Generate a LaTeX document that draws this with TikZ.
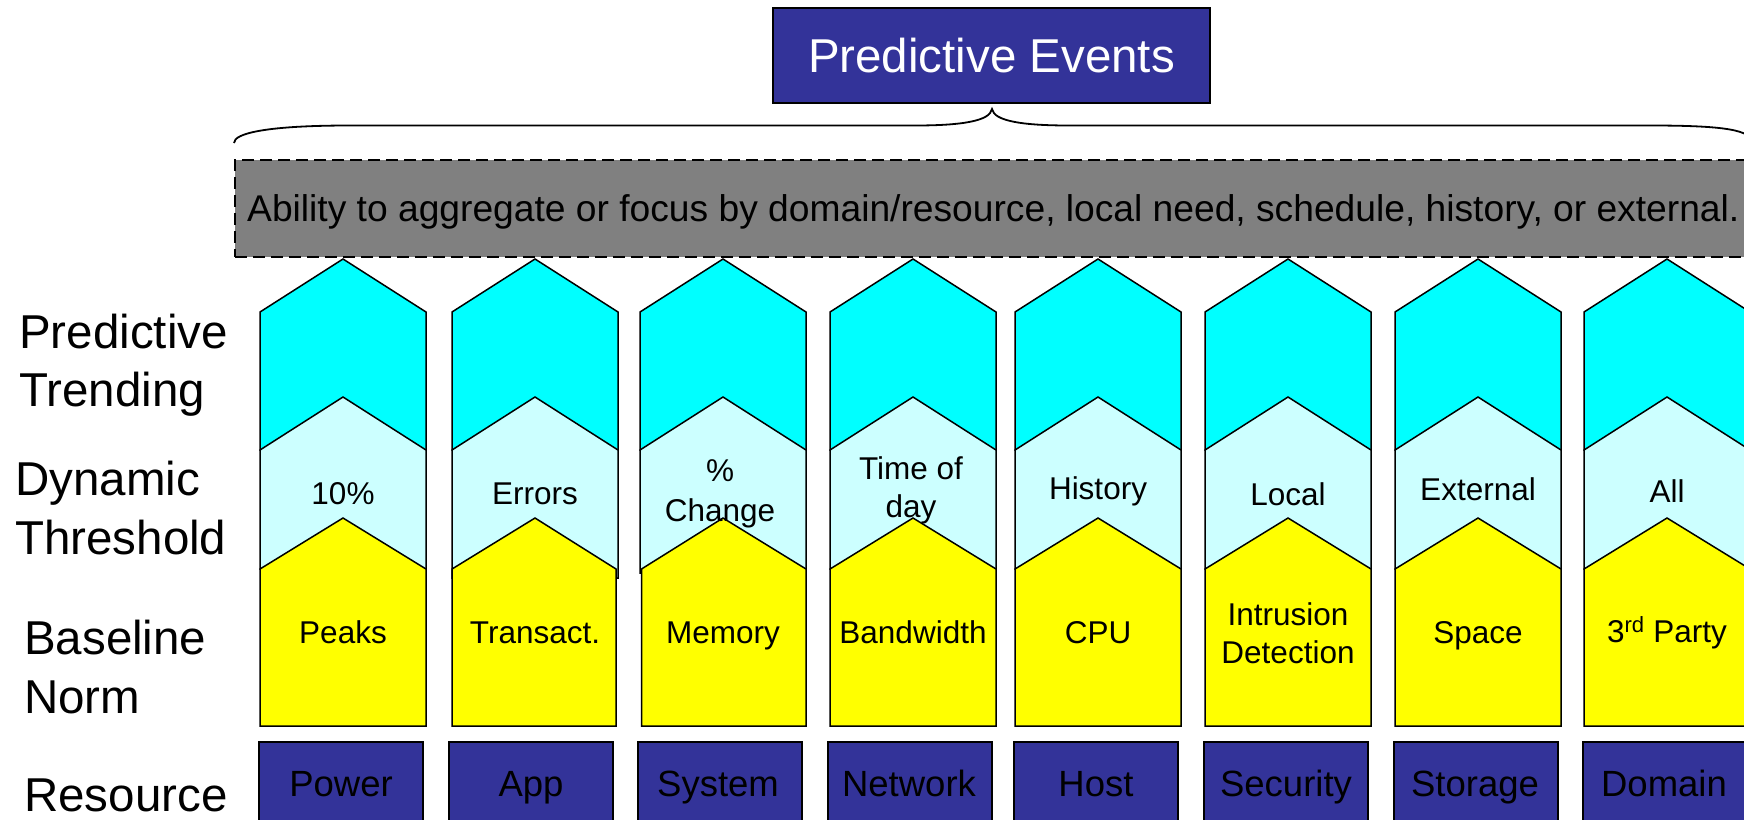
\documentclass[tikz,border=0pt]{standalone}
\usepackage{fontspec}
\setmainfont{Liberation Sans}
\definecolor{navy}{HTML}{333399}
\definecolor{trend}{HTML}{00FFFF}
\definecolor{thresh}{HTML}{CCFFFF}
\definecolor{base}{HTML}{FFFF00}
\definecolor{aggray}{HTML}{808080}

% one stacked column: #1 left x, #2 bottom of threshold band,
% #3 left inset of baseline band, #4 right edge of baseline band
\newcommand\stackcol[4]{%
  \begin{scope}[shift={(#1,0)}]
    \filldraw[band, fill=trend]  (0,312) -- (83,259) -- (166,312) -- (166,450) -- (0,450) -- cycle;
    \filldraw[band, fill=thresh] (0,450) -- (83,397) -- (166,450) -- (166,#2) -- (0,#2) -- cycle;
    \filldraw[band, fill=base]   (#3,569) -- (83,518) -- (#4,569) -- (#4,726) -- (#3,726) -- cycle;
  \end{scope}}

\tikzset{
  band/.style={draw=black, line width=1.5pt, line join=miter},
  rowlabel/.style={anchor=base west, inner sep=0pt, font=\fontsize{47.5pt}{57pt}\selectfont},
  celltext/.style={anchor=base, inner sep=0pt, font=\fontsize{31.5pt}{38pt}\selectfont},
  restext/.style={anchor=base, inner sep=0pt, font=\fontsize{36.5pt}{44pt}\selectfont},
  resbox/.style={draw=black, fill=navy, line width=1.5pt, anchor=north west,
                 minimum width=164pt, minimum height=100pt, inner sep=0pt},
  titlebox/.style={draw=black, fill=navy, line width=1.5pt, text=white, inner sep=0pt,
                   font=\fontsize{47.5pt}{57pt}\selectfont},
  aggbox/.style={draw=black, fill=aggray, line width=1.5pt, dash pattern=on 12pt off 6pt,
                 anchor=north west, inner sep=0pt},
  brace/.style={draw=black, line width=1.8pt},
}

\begin{document}
\begin{tikzpicture}[x=1pt,y=-1pt]
  \useasboundingbox (0,0) rectangle (1744,819);
  \clip (0,0) rectangle (1744,819);

  % heading and the brace that gathers the columns
  \node[titlebox, minimum width=437pt, minimum height=95pt] (title) at (991.5,55.5) {Predictive Events};
  \coordinate (braceL) at (234,143);
  \coordinate (braceR) at (1752,143);
  \coordinate (bracetip) at (992,109);
  \draw[brace] (braceL) .. controls (234,133) and (268,125.5) .. (350,125.5)
        -- (915,125.5) .. controls (962,125.5) and (990,121) .. (bracetip)
        .. controls (994,121) and (1022,125.5) .. (1069,125.5)
        -- (1650,125.5) .. controls (1725,125.5) and (1752,130) .. (braceR);

  % aggregation band
  \node[aggbox, minimum width=1518pt, minimum height=97pt] (agg) at (234,159) {};
  \node[anchor=base west, inner sep=0pt, font=\fontsize{37.2pt}{44pt}\selectfont] (aggtext) at (247,221)
    {Ability to aggregate or focus by domain/resource, local need, schedule, history, or external.};

  % the eight columns
  \stackcol{260}{569}{0}{166}
  \stackcol{452}{578}{0}{164}
  \stackcol{640}{573}{1.5}{166}
  \stackcol{830}{569}{0}{166}
  \stackcol{1015}{569}{0}{166}
  \stackcol{1205}{569}{0}{166}
  \stackcol{1395}{569}{0}{166}
  \stackcol{1584}{569}{0}{166}

  % row labels
  \node[rowlabel] (lblPred)  at (19,348) {Predictive};
  \node[rowlabel] (lblTrend) at (19,406) {Trending};
  \node[rowlabel] (lblDyn)   at (15,495) {Dynamic};
  \node[rowlabel] (lblThr)   at (15,554) {Threshold};
  \node[rowlabel] (lblBase)  at (24,654) {Baseline};
  \node[rowlabel] (lblNorm)  at (24,713) {Norm};
  \node[rowlabel] (lblRes)   at (24,811) {Resource};

  % threshold texts
  \node[celltext] (t1)  at (343,504) {10\%};
  \node[celltext] (t2)  at (535,504) {Errors};
  \node[celltext] (t3a) at (720,481) {\%};
  \node[celltext] (t3b) at (720,521) {Change};
  \node[celltext] (t4a) at (911,479) {Time of};
  \node[celltext] (t4b) at (911,517) {day};
  \node[celltext] (t5)  at (1098,499) {History};
  \node[celltext] (t6)  at (1288,505) {Local};
  \node[celltext] (t7)  at (1478,500) {External};
  \node[celltext] (t8)  at (1667,502) {All};

  % baseline texts
  \node[celltext] (b1)  at (343,643) {Peaks};
  \node[celltext] (b2)  at (535,643) {Transact.};
  \node[celltext] (b3)  at (723,643) {Memory};
  \node[celltext] (b4)  at (913,643) {Bandwidth};
  \node[celltext] (b5)  at (1098,643) {CPU};
  \node[celltext] (b6a) at (1288,625) {Intrusion};
  \node[celltext] (b6b) at (1288,663) {Detection};
  \node[celltext] (b7)  at (1478,643) {Space};
  \node[celltext] (b8)  at (1667,642) {3\textsuperscript{rd} Party};

  % resource boxes
  \node[resbox] (r1) at (258,741) {};
  \node[resbox] (r2) at (448,741) {};
  \node[resbox] (r3) at (637,741) {};
  \node[resbox] (r4) at (827,741) {};
  \node[resbox] (r5) at (1013,741) {};
  \node[resbox] (r6) at (1203,741) {};
  \node[resbox] (r7) at (1393,741) {};
  \node[resbox] (r8) at (1582,741) {};
  \node[restext] (rt1) at (341,796) {Power};
  \node[restext] (rt2) at (531,796) {App};
  \node[restext] (rt3) at (718,796) {System};
  \node[restext] (rt4) at (909,796) {Network};
  \node[restext] (rt5) at (1096,796) {Host};
  \node[restext] (rt6) at (1286,796) {Security};
  \node[restext] (rt7) at (1475,796) {Storage};
  \node[restext] (rt8) at (1664,796) {Domain};
\end{tikzpicture}
\end{document}
